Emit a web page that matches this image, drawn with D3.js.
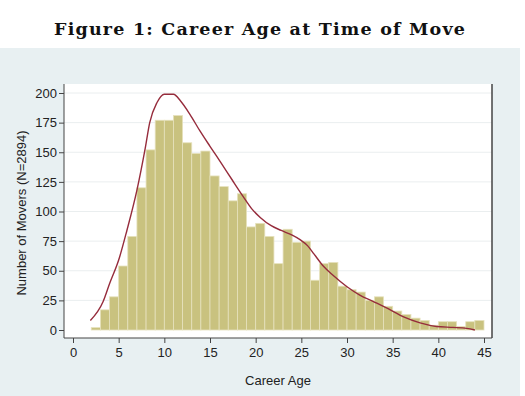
<!DOCTYPE html>
<html>
<head>
<meta charset="utf-8">
<script src="https://cdn.jsdelivr.net/npm/d3@7"></script>
<style>
  body { margin: 0; background: #ffffff; }
  svg { display: block; }
</style>
</head>
<body>
<div id="chart"></div>
<script>
// histogram bins: career age (bin start) and number of movers
const careerAge = [2, 3, 4, 5, 6, 7, 8, 9, 10, 11, 12, 13, 14, 15, 16, 17, 18, 19, 20, 21, 22,
                   23, 24, 25, 26, 27, 28, 29, 30, 31, 32, 33, 34, 35, 36, 37, 38, 39, 40, 41, 42, 43, 44];
const movers = [2, 17, 28, 54, 79, 120, 152, 177, 177, 181, 158, 149, 151, 130, 121, 109, 115, 87, 90, 79, 56,
                85, 74, 75, 42, 56, 57, 37, 34, 32, 25, 28, 20, 16, 13, 10, 8, 4, 7, 7, 3, 7, 8];

// density curve (scaled to counts)
const densityAge = [1.9, 3.3, 4.0, 5.0, 5.9, 7.0, 7.9, 8.4, 9.2, 10.0, 11.0, 11.8, 12.8, 13.9, 15.0, 16.3,
                    17.4, 18.6, 19.6, 20.5, 21.7, 22.8, 24.0, 24.9, 25.7, 26.4, 27.4, 28.5, 30.0, 31.4,
                    32.9, 34.5, 36.2, 38.0, 39.8, 41.6, 43.1, 44.0];
const densityCount = [8, 24, 39, 59, 84, 118, 153, 175, 192, 199, 199, 193, 182, 168, 155, 140,
                      127, 113, 102, 95, 88, 84, 80, 76, 71, 64, 54, 46, 36.5, 29.5,
                      24, 18, 11, 6, 3, 2.2, 1.4, 0];

const xTicks = [0, 5, 10, 15, 20, 25, 30, 35, 40, 45];
const yTicks = [0, 25, 50, 75, 100, 125, 150, 175, 200];

const width = 525;
const height = 396;
const plot = {left: 64, right: 492, top: 84, bottom: 338};

const xScale = d3.scaleLinear().domain([0, 45]).range([73, 484]);
const yScale = d3.scaleLinear().domain([0, 200]).range([330, 93]);

const svg = d3.select("#chart")
    .append("svg")
        .attr("width", width)
        .attr("height", height);

// graph region
svg.append("rect")
    .attr("x", 0)
    .attr("y", 48)
    .attr("width", 520)
    .attr("height", height - 48)
    .attr("fill", "#e8f0f2");

svg.append("text")
    .text("Figure 1: Career Age at Time of Move")
    .attr("x", 54)
    .attr("y", 35)
    .attr("textLength", 411)
    .attr("lengthAdjust", "spacing")
    .attr("font-family", "'DejaVu Serif', 'Liberation Serif', serif")
    .attr("font-weight", "bold")
    .attr("font-size", 17.5)
    .attr("fill", "#111");

// plot region
svg.append("rect")
    .attr("x", plot.left)
    .attr("y", plot.top)
    .attr("width", plot.right - plot.left)
    .attr("height", plot.bottom - plot.top)
    .attr("fill", "#ffffff");

svg.append("g")
    .selectAll("line")
    .data(yTicks.filter(d => d > 0))
    .enter()
        .append("line")
            .attr("x1", plot.left)
            .attr("x2", plot.right)
            .attr("y1", d => yScale(d))
            .attr("y2", d => yScale(d))
            .attr("stroke", "#eaeeef")
            .attr("stroke-width", 1);

svg.append("g")
    .selectAll("rect")
    .data(careerAge)
    .enter()
        .append("rect")
            .attr("x", d => xScale(d))
            .attr("width", d => xScale(d + 1) - xScale(d))
            .attr("y", (d, i) => yScale(movers[i]))
            .attr("height", (d, i) => yScale(0) - yScale(movers[i]))
            .attr("fill", "#c9c27f")
            .attr("stroke", "#e6e2bd")
            .attr("stroke-width", 0.8);

const line = d3.line()
    .x((d, i) => xScale(densityAge[i]))
    .y(d => yScale(d))
    .curve(d3.curveMonotoneX);

svg.append("path")
    .datum(densityCount)
    .attr("d", line)
    .attr("fill", "none")
    .attr("stroke", "#962c3c")
    .attr("stroke-width", 1.4);

// axes
const font = "'Liberation Sans', Arial, sans-serif";

const yAxis = svg.append("g")
    .attr("transform", `translate(${plot.left}, 0)`)
    .call(d3.axisLeft(yScale).tickValues(yTicks).tickSize(5).tickPadding(2));
yAxis.select(".domain").attr("d", `M0,${plot.top}V${plot.bottom}`).attr("stroke", "#444");

const xAxis = svg.append("g")
    .attr("transform", `translate(0, ${plot.bottom})`)
    .call(d3.axisBottom(xScale).tickValues(xTicks).tickSize(5).tickPadding(5));
xAxis.select(".domain").attr("d", `M${plot.left},0H${plot.right}`).attr("stroke", "#444");

svg.selectAll(".tick line").attr("stroke", "#444");
svg.selectAll(".tick text")
    .attr("font-family", font)
    .attr("font-size", 13)
    .attr("fill", "#222");

svg.append("line")
    .attr("x1", plot.right)
    .attr("x2", plot.right)
    .attr("y1", plot.top)
    .attr("y2", plot.bottom)
    .attr("stroke", "#444")
    .attr("stroke-width", 1.5);

svg.append("text")
    .text("Career Age")
    .attr("x", 278)
    .attr("y", 385)
    .attr("text-anchor", "middle")
    .attr("font-family", font)
    .attr("font-size", 13)
    .attr("fill", "#222");

svg.append("text")
    .text("Number of Movers (N=2894)")
    .attr("transform", "rotate(-90)")
    .attr("x", -213)
    .attr("y", 26)
    .attr("text-anchor", "middle")
    .attr("font-family", font)
    .attr("font-size", 13)
    .attr("fill", "#222");
</script>
</body>
</html>
